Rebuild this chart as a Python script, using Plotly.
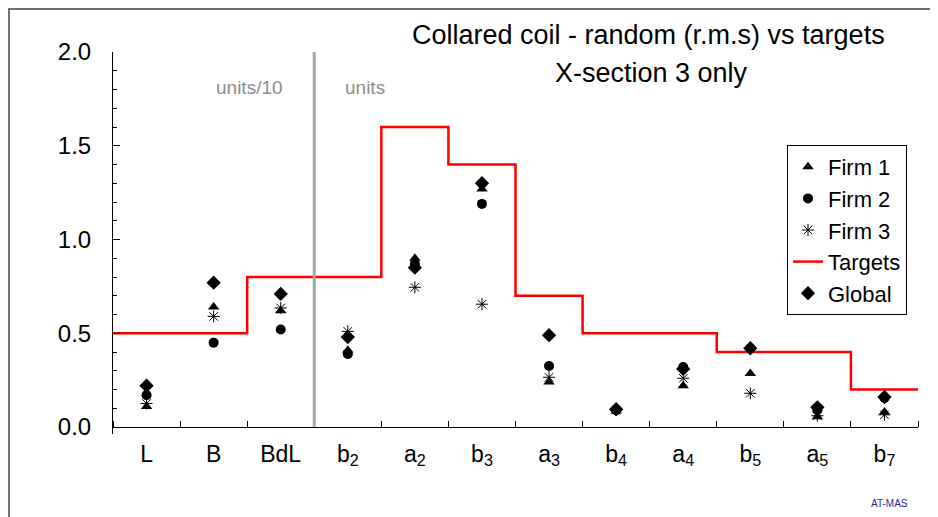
import plotly.graph_objects as go

# ---- data ----
categories = ["L", "B", "BdL", "b<sub>2</sub>", "a<sub>2</sub>", "b<sub>3</sub>",
              "a<sub>3</sub>", "b<sub>4</sub>", "a<sub>4</sub>", "b<sub>5</sub>",
              "a<sub>5</sub>", "b<sub>7</sub>"]
firm1 = [0.11, 0.64, 0.62, 0.41, 0.90, 1.27, 0.24, 0.085, 0.22, 0.285, 0.055, 0.08]
firm2 = [0.17, 0.45, 0.52, 0.39, 0.87, 1.19, 0.325, 0.09, 0.32, 0.42, 0.09, 0.155]
firm3 = [0.125, 0.59, 0.635, 0.51, 0.745, 0.655, 0.265, 0.09, 0.26, 0.18, 0.06, 0.065]
global_vals = [0.22, 0.77, 0.71, 0.48, 0.85, 1.30, 0.49, 0.095, 0.31, 0.42, 0.105, 0.16]
targets = [0.5, 0.5, 0.8, 0.8, 1.6, 1.4, 0.7, 0.5, 0.5, 0.4, 0.4, 0.2]
y_ticks = [0.0, 0.5, 1.0, 1.5, 2.0]

n = len(categories)
xc = list(range(n))
bounds = [i - 0.5 for i in range(n + 1)]

FONT = "Liberation Sans, Arial, sans-serif"

fig = go.Figure()

# Targets step line (drawn first, under markers)
fig.add_trace(go.Scatter(
    x=bounds, y=targets + [targets[-1]], mode="lines", line_shape="hv",
    line=dict(color="#ff0000", width=2.5), name="Targets",
    legendgroup="t", legendrank=4))

fig.add_trace(go.Scatter(
    x=xc, y=global_vals, mode="markers", name="Global", legendgroup="g", legendrank=5,
    marker=dict(symbol="diamond", size=11, color="black")))
fig.add_trace(go.Scatter(
    x=xc, y=firm2, mode="markers", name="Firm 2", legendgroup="f2", legendrank=2,
    marker=dict(symbol="circle", size=10, color="black")))
fig.add_trace(go.Scatter(
    x=xc, y=firm1, mode="markers", name="Firm 1", legendgroup="f1", legendrank=1,
    marker=dict(symbol="triangle-up", size=10, color="black")))
fig.add_trace(go.Scatter(
    x=xc, y=firm3, mode="markers", name="Firm 3", legendgroup="f3", legendrank=3,
    marker=dict(symbol="asterisk-open", size=10, color="black",
                line=dict(color="black", width=1))))

# page has an 8px body margin; figure drawn at (8, 8)
OFF = 8
W, H = 938 - OFF, 517 - OFF
# plot area in page px: x 113..918, y 52..434 (value 0 at 427)
PL, PR, PT, PB = 113, 918, 52, 434
ml, mr, mt, mb = PL - OFF, W - (PR - OFF), PT - OFF, H - (PB - OFF)
px_w = PR - PL
px_h = PB - PT
ymin = -7 / 187.5


def paper_x(px):
    return (px - PL) / px_w


def paper_y(py):
    return (PB - py) / px_h


fig.update_layout(
    width=W, height=H,
    margin=dict(l=ml, r=mr, t=mt, b=mb, autoexpand=False),
    paper_bgcolor="white", plot_bgcolor="white",
    font=dict(family=FONT, color="black"),
    showlegend=True,
    legend=dict(x=paper_x(787), y=paper_y(145),
                xanchor="left", yanchor="top",
                bordercolor="black", borderwidth=1, bgcolor="white",
                font=dict(size=22, family=FONT), traceorder="grouped",
                tracegroupgap=0, itemwidth=30),
    xaxis=dict(range=[-0.5, n - 0.5], tickmode="array", tickvals=xc, ticktext=categories,
               ticks="", showline=True, linecolor="black", linewidth=1,
               anchor="free", position=7 / px_h, automargin=False,
               tickfont=dict(size=23, family=FONT), ticklabelstandoff=6,
               showgrid=False, zeroline=False,
               minor=dict(tickmode="array", tickvals=bounds, ticks="inside",
                          ticklen=6, tickcolor="black", showgrid=False)),
    yaxis=dict(range=[ymin, 2.0], tickmode="array", tickvals=y_ticks, tickformat=".1f",
               ticks="inside", ticklen=7, tickcolor="black",
               showline=True, linecolor="black", linewidth=1, automargin=False,
               tickfont=dict(size=24, family=FONT), ticklabelstandoff=16,
               showgrid=False, zeroline=False,
               minor=dict(tick0=0, dtick=0.1, ticks="inside", ticklen=4,
                          tickcolor="black", showgrid=False)),
)

# gray separator between units/10 and units
fig.add_shape(type="line", x0=2.5, x1=2.5, y0=0, y1=2.02, xref="x", yref="y",
              line=dict(color="#a6a6a6", width=3))

# outer frame (top & left visible)
fig.add_shape(type="rect", xref="paper", yref="paper",
              x0=paper_x(OFF + 1), x1=1.2,
              y0=-0.4, y1=paper_y(OFF + 1),
              line=dict(color="#404040", width=1.5), layer="below")

fig.add_annotation(x=1.54, y=1.813, xref="x", yref="y", text="units/10", showarrow=False,
                   font=dict(size=19, color="#8c8c8c", family=FONT))
fig.add_annotation(x=3.26, y=1.813, xref="x", yref="y", text="units", showarrow=False,
                   font=dict(size=19, color="#8c8c8c", family=FONT))

fig.add_annotation(x=paper_x(648), y=paper_y(35), xref="paper", yref="paper",
                   text="Collared coil - random (r.m.s) vs targets", showarrow=False,
                   xanchor="center", yanchor="middle",
                   font=dict(size=27, family=FONT, color="black"))
fig.add_annotation(x=paper_x(651), y=paper_y(73), xref="paper", yref="paper",
                   text="X-section 3 only", showarrow=False,
                   xanchor="center", yanchor="middle",
                   font=dict(size=27, family=FONT, color="black"))
fig.add_annotation(x=paper_x(889), y=paper_y(503), xref="paper", yref="paper",
                   text="AT-MAS", showarrow=False, xanchor="center", yanchor="middle",
                   font=dict(size=10, family=FONT, color="#2a2aa0"))

fig.write_html("out.html")
